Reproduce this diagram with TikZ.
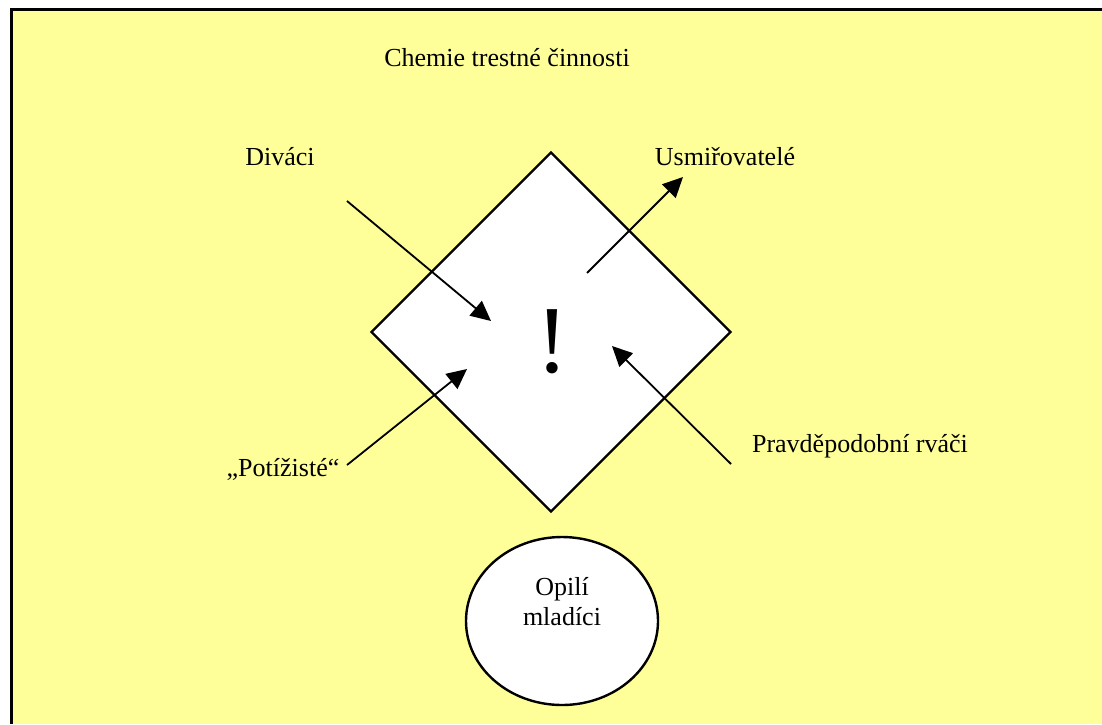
\documentclass[tikz,border=0pt]{standalone}
\usepackage{fontspec}
\setmainfont{Liberation Serif}
\usetikzlibrary{shapes.geometric,arrows.meta}
\definecolor{bgyellow}{HTML}{FFFF99}
\tikzset{
  lbl/.style={font=\fontsize{13pt}{15pt}\selectfont, inner sep=0pt, align=center},
  arr/.style={line width=0.9pt, -{Triangle[length=10pt,width=9.5pt]}},
}
\begin{document}
\begin{tikzpicture}[x=0.5pt,y=-0.5pt]
\useasboundingbox (0,0) rectangle (1102,724);
\fill[bgyellow] (11,9.5) rectangle (1102,724);
\draw[line width=1.5pt] (11,724) -- (11,9.5) -- (1102,9.5);
\node[lbl] (title) at (507,58) {Chemie trestné činnosti};
\node[diamond, draw, line width=1.2pt, fill=white, minimum width=180pt, minimum height=180pt, inner sep=0pt] (dia) at (551,332) {};
\node[inner sep=0pt, font=\fontsize{48pt}{50pt}\selectfont] (excl) at (552,342) {!};
\node[ellipse, draw, line width=1.2pt, fill=white, minimum width=96pt, minimum height=84pt, inner sep=0pt] (ell) at (562,621) {};
\node[lbl] (opili) at (562,602) {Opilí\\mladíci};
\node[lbl] (divaci) at (280,157) {Diváci};
\node[lbl] (usmir) at (725,157) {Usmiřovatelé};
\node[lbl] (pravd) at (860,446) {Pravděpodobní rváči};
\node[lbl] (potiz) at (283,469) {„Potížisté“};
\coordinate (a1s) at (347,201);
\coordinate (a1e) at (491,321);
\coordinate (a2s) at (587,273);
\coordinate (a2e) at (683,177);
\coordinate (a3s) at (347,465);
\coordinate (a3e) at (467,369);
\coordinate (a4s) at (731,464);
\coordinate (a4e) at (612,346);
\draw[arr] (a1s) -- (a1e);
\draw[arr] (a2s) -- (a2e);
\draw[arr] (a3s) -- (a3e);
\draw[arr] (a4s) -- (a4e);
\end{tikzpicture}
\end{document}
